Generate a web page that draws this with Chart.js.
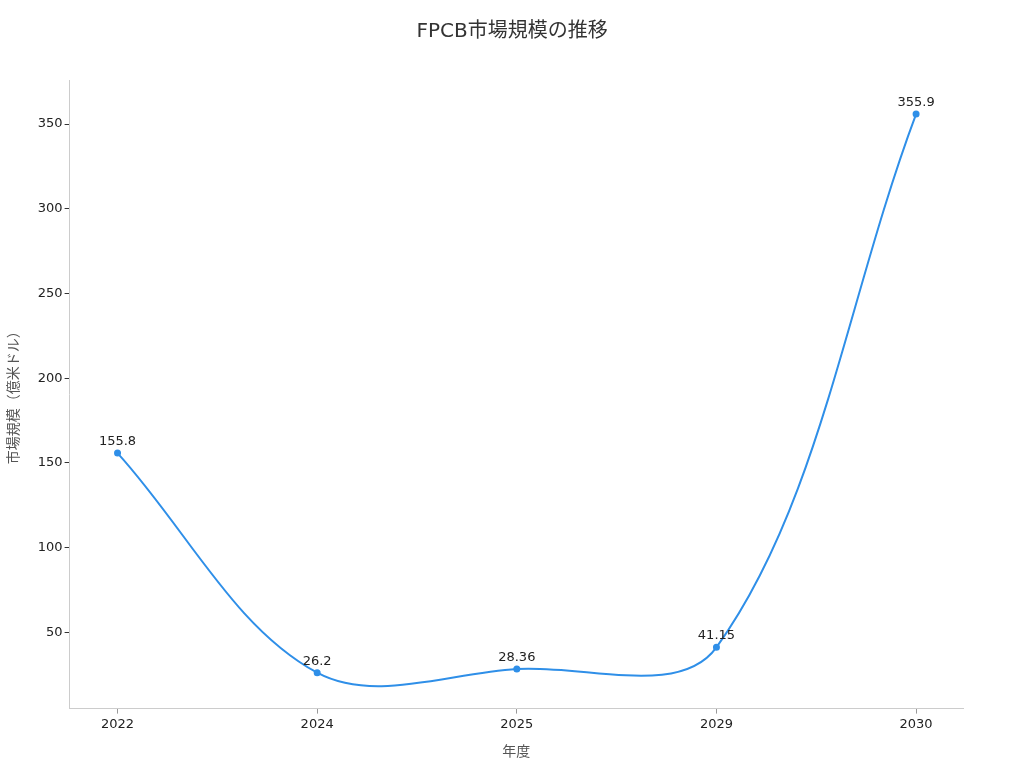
<!DOCTYPE html>
<html>
<head>
<meta charset="utf-8">
<script src="https://cdn.jsdelivr.net/npm/chart.js@4"></script>
<style>
  html, body { margin: 0; padding: 0; background: #fff; }
  #wrap { width: 1024px; height: 768px; }
</style>
</head>
<body>
<div id="wrap"><canvas id="fpcbChart" width="1024" height="768"></canvas></div>
<script>
// データ
const years = ['2022', '2024', '2025', '2029', '2030'];
const marketSize = [155.8, 26.2, 28.36, 41.15, 355.9];
const yTicks = [50, 100, 150, 200, 250, 300, 350];
const chartTitle = 'FPCB市場規模の推移';

const lineColor = '#2f8fe8';
const fontFamily = '"DejaVu Sans", "Noto Sans CJK JP", sans-serif';

// 点の上に値を表示 + タイトルをキャンバス中央に
const valueLabels = {
    id: 'valueLabels',
    afterDatasetsDraw(chart) {
        const ctx = chart.ctx;
        const meta = chart.getDatasetMeta(0);
        ctx.save();
        ctx.font = '13px ' + fontFamily;
        ctx.fillStyle = '#222';
        ctx.textAlign = 'center';
        ctx.textBaseline = 'bottom';
        meta.data.forEach((pt, i) => {
            ctx.fillText(String(marketSize[i]), pt.x, pt.y - 5);
        });
        ctx.font = '20px ' + fontFamily;
        ctx.fillStyle = '#333';
        ctx.textBaseline = 'middle';
        ctx.fillText(chartTitle, chart.width / 2, 32);
        ctx.restore();
    }
};

const points = marketSize.map((v, i) => ({ x: i, y: v }));

new Chart(document.getElementById('fpcbChart').getContext('2d'), {
    type: 'line',
    data: {
        datasets: [{
            data: points,
            borderColor: lineColor,
            backgroundColor: lineColor,
            borderWidth: 2,
            pointRadius: 2.5,
            pointHoverRadius: 2.5,
            tension: 0.35,
            fill: false
        }]
    },
    options: {
        responsive: false,
        animation: false,
        devicePixelRatio: 1,
        layout: { padding: { top: 80, right: 61, bottom: 3, left: 2 } },
        plugins: {
            legend: { display: false },
            tooltip: { enabled: false },
            title: { display: false }
        },
        scales: {
            x: {
                type: 'linear',
                min: -0.24,
                max: 4.235,
                afterBuildTicks: axis => { axis.ticks = years.map((y, i) => ({ value: i })); },
                ticks: {
                    callback: v => years[v],
                    color: '#222',
                    font: { family: fontFamily, size: 13 },
                    padding: 3
                },
                grid: {
                    display: true,
                    drawOnChartArea: false,
                    drawTicks: true,
                    tickLength: 5,
                    color: '#999'
                },
                border: { display: true, color: '#ccc' },
                title: {
                    display: true,
                    text: '年度',
                    color: '#555',
                    font: { family: fontFamily, size: 14 },
                    padding: { top: 9 }
                }
            },
            y: {
                min: 5,
                max: 376,
                afterBuildTicks: axis => { axis.ticks = yTicks.map(v => ({ value: v })); },
                ticks: {
                    color: '#222',
                    font: { family: fontFamily, size: 13 },
                    padding: 2
                },
                grid: {
                    display: true,
                    drawOnChartArea: false,
                    drawTicks: true,
                    tickLength: 5,
                    color: '#333'
                },
                border: { display: true, color: '#ccc' },
                title: {
                    display: true,
                    text: '市場規模（億米ドル）',
                    color: '#555',
                    font: { family: fontFamily, size: 14 },
                    padding: { bottom: 13 }
                }
            }
        }
    },
    plugins: [valueLabels]
});
</script>
</body>
</html>
